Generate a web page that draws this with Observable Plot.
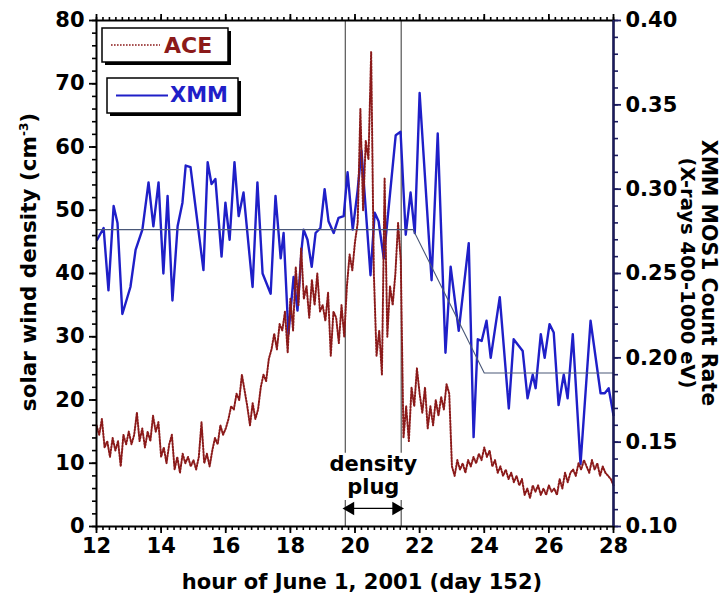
<!DOCTYPE html>
<html><head><meta charset="utf-8">
<script src="https://cdn.jsdelivr.net/npm/d3@7"></script>
<script src="https://cdn.jsdelivr.net/npm/@observablehq/plot@0.6"></script>
<style>
html,body{margin:0;padding:0;background:#fff;}
#chart{position:relative;width:724px;height:595px;}
svg text{font-family:"DejaVu Sans",sans-serif;}
</style></head><body><div id="chart"></div>
<script>
// ---- data ----
const aceStart = 12;
const aceStepHours = 1 / 12; // 5-minute samples
const aceDensity = [
  16, 14.5, 17, 12.5, 13.5, 11, 14, 12, 13.5, 9.5, 14.5, 13,
  15, 13, 14.5, 18, 13.5, 15.5, 12.5, 15, 13.5, 17.5, 15, 16.5,
  11, 12.5, 10, 13, 14.5, 9, 11, 8.5, 11.5, 10, 11, 9.5,
  10.5, 9, 11, 16.5, 10, 11.5, 9.5, 12, 14, 13, 16, 14.5,
  15.5, 17, 19, 18.5, 21, 20, 24, 21.5, 19, 16, 19.5, 17,
  18.5, 22, 24, 23, 26.5, 28, 30.5, 28, 32, 31, 34, 27.5,
  36, 31, 41, 35, 44, 36, 38, 33, 39, 35, 40, 34,
  35, 32.5, 37, 27, 34, 33, 29, 35, 30, 38, 43, 40.5,
  45, 48, 66, 50, 61, 58, 75, 40, 27, 31, 24, 55,
  30, 38, 35, 40, 48, 42, 14, 19, 13.5, 22, 19, 25,
  21, 18, 22, 15.5, 19, 16, 20, 17.5, 20.5, 18.5, 22.5, 21,
  9.5, 8, 10.5, 9, 10, 8.5, 10.5, 9.5, 11, 10, 11.5, 10.5,
  12.5, 11, 12, 9.5, 10.5, 8.5, 9.5, 8, 9, 7.5, 8.5, 7,
  8, 6.5, 7.5, 5, 6, 4.5, 6.5, 5.5, 6.5, 5, 6, 5,
  6.5, 5.5, 6, 5, 7.5, 6, 8.5, 7, 8.5, 9, 8, 10,
  9, 10.5, 9.5, 8.5, 10.5, 9, 10, 8, 9.5, 8.5, 8, 7.5,
  6.5
];
const xmmHour = [12.02,12.22,12.37,12.53,12.65,12.80,13.05,13.21,13.42,13.61,13.76,13.92,14.07,14.20,14.35,14.51,14.66,14.76,14.91,15.31,15.44,15.56,15.68,15.87,15.99,16.12,16.27,16.40,16.55,16.83,16.98,17.14,17.39,17.54,17.70,17.79,17.94,18.10,18.22,18.35,18.41,18.53,18.66,18.78,18.93,19.06,19.18,19.34,19.49,19.65,19.77,19.93,20.08,20.20,20.48,20.61,20.73,20.89,21.26,21.41,21.57,21.72,21.85,22.00,22.37,22.56,22.80,22.96,23.21,23.52,23.67,23.80,23.92,24.07,24.20,24.48,24.76,24.91,25.19,25.34,25.50,25.59,25.75,25.87,26.02,26.15,26.30,26.46,26.58,26.74,26.98,27.29,27.60,27.73,27.85,28.00];
const xmmRate = [0.270,0.277,0.240,0.290,0.280,0.226,0.242,0.264,0.276,0.304,0.278,0.304,0.250,0.296,0.234,0.278,0.292,0.314,0.313,0.252,0.316,0.303,0.306,0.260,0.292,0.270,0.316,0.284,0.298,0.242,0.304,0.250,0.238,0.296,0.259,0.274,0.214,0.248,0.228,0.265,0.276,0.270,0.254,0.274,0.277,0.300,0.281,0.274,0.283,0.284,0.310,0.276,0.299,0.323,0.249,0.286,0.281,0.259,0.332,0.334,0.273,0.298,0.274,0.357,0.246,0.333,0.203,0.254,0.216,0.268,0.153,0.211,0.210,0.222,0.200,0.236,0.170,0.211,0.204,0.176,0.190,0.182,0.214,0.200,0.220,0.215,0.172,0.190,0.176,0.214,0.137,0.222,0.179,0.179,0.182,0.166];
const baseHour = [12, 21.8, 24.0, 28];
const baseRate = [0.276, 0.276, 0.191, 0.191];
const plugStart = 19.7, plugEnd = 21.43;
const plugLabels = ["density", "plug"];
const hourTicks = [12, 14, 16, 18, 20, 22, 24, 26, 28];
const densityTicks = [0, 10, 20, 30, 40, 50, 60, 70, 80];
const rateTicks = [0.10, 0.15, 0.20, 0.25, 0.30, 0.35, 0.40];
const legendLabels = ["ACE", "XMM"];
const xTitle = "hour of June 1, 2001 (day 152)";
const yTitle = ["solar wind density (cm", "-3", ")"];
const y2Title = ["XMM MOS1 Count Rate", "(X-rays 400-1000 eV)"];

// ---- helpers ----
const densMin = 0, densMax = 80, rateMin = 0.10, rateMax = 0.40;
const rateToY = r => (r - rateMin) / (rateMax - rateMin) * (densMax - densMin) + densMin;
const yToRate = y => (y - densMin) / (densMax - densMin) * (rateMax - rateMin) + rateMin;
const ACE_COLOR = "#8b1a1a", XMM_COLOR = "#1f1fc8", NAVY = "#1c1c60";

const ace = aceDensity.map((v, i) => ({hour: aceStart + i * aceStepHours, n: v}));
const xmm = xmmHour.map((h, i) => ({hour: h, y: rateToY(xmmRate[i])}));
const base = baseHour.map((h, i) => ({hour: h, y: rateToY(baseRate[i])}));
const hourMinor = d3.range(hourTicks[0], hourTicks[hourTicks.length - 1] + 0.001, 0.2);
const densMinor = d3.range(densMin, densMax + 0.001, 2);
const rateMinor = d3.range(rateMin, rateMax + 0.0001, 0.01).map(rateToY);
const plugMid = (plugStart + plugEnd) / 2;

const W = 724, H = 595;
const tickFont = {fontSize: 21, fontWeight: "bold", fontFamily: "DejaVu Sans", fill: "black"};
const plot = Plot.plot({
  width: W, height: H,
  marginLeft: 96, marginRight: 111, marginTop: 20, marginBottom: 69,
  x: {domain: [12, 28], label: null},
  y: {domain: [densMin, densMax], label: null},
  style: {background: "white", fontFamily: "DejaVu Sans", color: "black"},
  marks: [
    Plot.ruleX([plugStart, plugEnd], {y1: densMax, y2: 11.6, stroke: "#555", strokeWidth: 1.2}),
    Plot.ruleX([plugStart, plugEnd], {y1: 0, y2: 4.1, stroke: "#555", strokeWidth: 1.2}),
    Plot.line(xmm, {x: "hour", y: "y", stroke: XMM_COLOR, strokeWidth: 2.4, strokeLinejoin: "round"}),
    Plot.line(ace, {x: "hour", y: "n", stroke: ACE_COLOR, strokeWidth: 2, strokeDasharray: "1.5,1.6"}),
    Plot.line(base, {x: "hour", y: "y", stroke: "#4a5878", strokeWidth: 1.1}),
    Plot.text([plugLabels[0]], {x: plugMid, y: 8.1, text: d => d, dy: -11, fontSize: 21, fontWeight: "bold", fill: "black"}),
    Plot.text([plugLabels[1]], {x: plugMid, y: 8.1, text: d => d, dy: 11.5, fontSize: 21, fontWeight: "bold", fill: "black"}),
    Plot.link([plugMid], {x1: plugStart, x2: plugEnd, y1: 2.85, y2: 2.85, stroke: "black", strokeWidth: 1.3}),
    Plot.dot([plugStart], {x: d => d, y: 2.85, symbol: "triangle", r: 5, rotate: -90, fill: "black", stroke: "none", dx: 5}),
    Plot.dot([plugEnd], {x: d => d, y: 2.85, symbol: "triangle", r: 5, rotate: 90, fill: "black", stroke: "none", dx: -5}),
    // axes
    Plot.axisY(densMinor, {anchor: "left", tickSize: 4, tickFormat: () => "", strokeWidth: 1.6, label: null}),
    Plot.axisY(densityTicks, {anchor: "left", tickSize: 7, tickPadding: 5, strokeWidth: 1.8, label: null, ...tickFont}),
    Plot.axisY(rateMinor, {anchor: "right", tickSize: 4, tickFormat: () => "", strokeWidth: 1.6, stroke: NAVY, label: null}),
    Plot.axisY(rateTicks.map(rateToY), {anchor: "right", tickSize: 7, tickPadding: 5, strokeWidth: 1.8, stroke: NAVY, tickFormat: d => yToRate(d).toFixed(2), label: null, ...tickFont}),
    Plot.axisX(hourMinor, {anchor: "bottom", tickSize: 4, tickFormat: () => "", strokeWidth: 1.6, label: null}),
    Plot.axisX(hourTicks, {anchor: "bottom", tickSize: 7, tickPadding: 5, strokeWidth: 1.8, label: null, ...tickFont}),
    Plot.axisX(hourMinor, {anchor: "top", tickSize: 4, tickFormat: () => "", strokeWidth: 1.6, label: null}),
    Plot.axisX(hourTicks, {anchor: "top", tickSize: 7, tickFormat: () => "", strokeWidth: 1.8, label: null}),
    Plot.frame({stroke: "black", strokeWidth: 2}),
    Plot.ruleX([28], {stroke: NAVY, strokeWidth: 2.2})
  ]
});
document.getElementById("chart").appendChild(plot);

// ---- legend boxes and axis titles ----
const svg = d3.select(plot);
const leg = svg.append("g");
function legendBox(x, y, w, h, color, dash, width, label, lx1, lx2, tx, ty, fs) {
  leg.append("rect").attr("x", x + 3).attr("y", y + 3).attr("width", w).attr("height", h).attr("fill", "black");
  leg.append("rect").attr("x", x).attr("y", y).attr("width", w).attr("height", h).attr("fill", "white").attr("stroke", "black").attr("stroke-width", 1.5);
  leg.append("line").attr("x1", lx1).attr("x2", lx2).attr("y1", y + h / 2).attr("y2", y + h / 2)
    .attr("stroke", color).attr("stroke-width", width).attr("stroke-dasharray", dash);
  leg.append("text").attr("x", tx).attr("y", ty).attr("text-anchor", "start").attr("fill", color).attr("font-size", fs)
    .attr("font-weight", "bold").text(label);
}
legendBox(102, 28, 126, 34, ACE_COLOR, "1.6,1.4", 1.6, legendLabels[0], 111, 160, 164, 53, 22);
legendBox(107, 78, 131, 35, XMM_COLOR, null, 2, legendLabels[1], 116, 168, 170, 102, 21);

const t1 = svg.append("text").attr("transform", "translate(36,262) rotate(-90)")
  .attr("text-anchor", "middle").attr("font-size", 21.5).attr("font-weight", "bold").attr("fill", "black");
t1.append("tspan").text(yTitle[0]);
t1.append("tspan").attr("dy", -8).attr("font-size", 12).text(yTitle[1]);
t1.append("tspan").attr("dy", 8).text(yTitle[2]);

svg.append("text").attr("transform", "translate(702,273) rotate(90)")
  .attr("text-anchor", "middle").attr("font-size", 20.5).attr("font-weight", "bold").attr("fill", "black").text(y2Title[0]);
svg.append("text").attr("transform", "translate(681,273) rotate(90)")
  .attr("text-anchor", "middle").attr("font-size", 19.5).attr("font-weight", "bold").attr("fill", "black").text(y2Title[1]);

svg.append("text").attr("x", 362).attr("y", 589).attr("text-anchor", "middle")
  .attr("font-size", 21).attr("font-weight", "bold").attr("fill", "black").text(xTitle);
</script></body></html>
